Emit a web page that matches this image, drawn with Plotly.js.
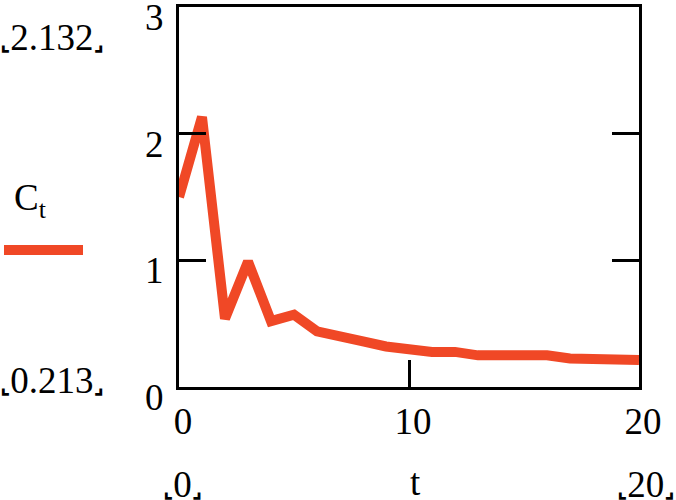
<!DOCTYPE html>
<html>
<head>
<meta charset="utf-8">
<script src="https://cdn.plot.ly/plotly-3.0.1.min.js"></script>
<style>
  html, body { margin: 0; padding: 0; background: #fff; }
  #chart { width: 676px; height: 500px; }
</style>
</head>
<body>
<div id="chart"></div>
<script>
// values
var t = [0, 1, 2, 3, 4, 5, 6, 7, 8, 9, 10, 11, 12, 13, 14, 15, 16, 17, 18, 19, 20];
var C = [1.5, 2.132, 0.54, 0.99, 0.52, 0.57, 0.44, 0.41, 0.36, 0.32, 0.30, 0.277, 0.277, 0.25, 0.25, 0.25, 0.25, 0.225, 0.22, 0.215, 0.213];
var xTicks = [0, 10, 20];
var yTicks = [0, 1, 2, 3];

var lineColor = 'rgb(240, 72, 38)';
var serif = 'Liberation Serif';
var fontSize = 37;

// plot box in pixels
var L = 179, R = 639, T = 7, B = 387;
function px(x) { return (x - L) / (R - L); }
function py(y) { return (B - y) / (B - T); }

function bracket(s) {
  return '<span style="font-family:DejaVu Sans;font-weight:bold;font-size:22px">⌞</span>' + s +
         '<span style="font-family:DejaVu Sans;font-weight:bold;font-size:22px">⌟</span>';
}

var trace = {
  x: t,
  y: C,
  type: 'scatter',
  mode: 'lines',
  line: { color: lineColor, width: 10 },
  showlegend: false,
  hoverinfo: 'skip'
};

var axisCommon = {
  showgrid: false,
  zeroline: false,
  showline: true,
  linecolor: '#000',
  linewidth: 3,
  ticks: 'inside',
  ticklen: 27,
  tickwidth: 3,
  tickcolor: '#000',
  tickfont: { family: serif, size: fontSize, color: '#000' },
  ticklabeloverflow: 'allow',
  fixedrange: true
};

var layout = {
  width: 676,
  height: 500,
  margin: { l: L, r: 676 - R, t: T, b: 500 - B },
  paper_bgcolor: '#fff',
  plot_bgcolor: '#fff',
  font: { family: serif, color: '#000' },
  xaxis: Object.assign({}, axisCommon, {
    range: [0, 20],
    tickvals: xTicks,
    ticktext: xTicks.map(String),
    mirror: true,
    ticklabelstandoff: 0,
    ticklabelshift: 4
  }),
  yaxis: Object.assign({}, axisCommon, {
    range: [0, 3],
    tickvals: yTicks,
    ticktext: yTicks.map(String),
    mirror: 'ticks',
    ticklabelstandoff: 5,
    ticklabelshift: 10
  }),
  shapes: [
    {
      type: 'line', xref: 'paper', yref: 'paper',
      x0: px(4), x1: px(83), y0: py(250), y1: py(250),
      line: { color: lineColor, width: 10 }
    }
  ],
  annotations: [
    { text: bracket('2.132'), x: px(52), y: py(37) },
    { text: 'C<sub>t</sub>', x: px(30), y: py(200) },
    { text: bracket('0.213'), x: px(52), y: py(380) },
    { text: bracket('0'), x: px(182), y: py(484) },
    { text: 't', x: px(415), y: py(482) },
    { text: bracket('20'), x: px(646), y: py(484) }
  ].map(function (a) {
    return Object.assign({
      xref: 'paper', yref: 'paper', showarrow: false,
      xanchor: 'center', yanchor: 'middle',
      font: { family: serif, size: fontSize, color: '#000' }
    }, a);
  })
};

Plotly.newPlot('chart', [trace], layout, { displayModeBar: false, staticPlot: true });
</script>
</body>
</html>
